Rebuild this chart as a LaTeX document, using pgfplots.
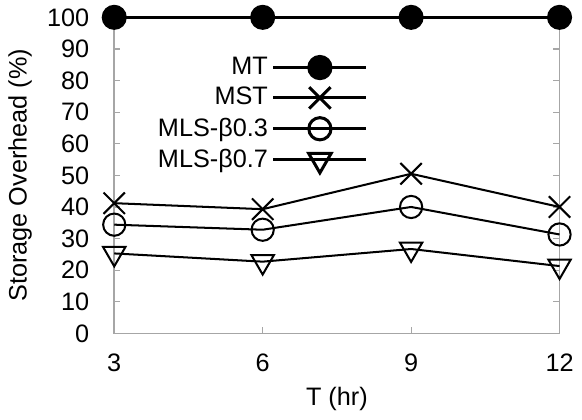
\documentclass[border=0pt]{standalone}
\usepackage{fontspec}
\setmainfont{Liberation Sans}
\usepackage{pgfplots}
\pgfplotsset{compat=1.18}
\begin{document}
\fontsize{12.5}{15}\selectfont
\begin{tikzpicture}
\begin{axis}[
  scale only axis,
  width=220.5pt, height=156.5pt,
  xmin=3, xmax=12, ymin=0, ymax=100,
  xtick={3,6,9,12}, ytick={0,10,...,100},
  tick align=inside, major tick length=3pt,
  axis line style={gray!70, line width=0.8pt},
  every tick/.style={gray!70, line width=0.6pt},
  /pgf/number format/assume math mode=true,
  ticklabel style={font=\fontsize{12.5}{15}\selectfont},
  xticklabel style={yshift=-6pt},
  yticklabel style={xshift=-8pt},
  label style={font=\fontsize{12.5}{15}\selectfont},
  xlabel={T (hr)}, ylabel={Storage Overhead (\%)},
  xlabel style={yshift=1pt},
  ylabel style={yshift=-1pt},
  clip=false,
  legend plot pos=right,
  legend cell align=right,
  legend style={draw=none, fill=none, at={(rel axis cs:0.575,0.895)}, anchor=north east,
    font=\fontsize{12.5}{15}\selectfont, row sep=0.5pt, inner sep=1pt},
  legend image code/.code={\draw[mark repeat=2,mark phase=2,line width=1.5pt] plot coordinates {(0pt,0pt)(23pt,0pt)(46pt,0pt)};},
  every axis plot/.append style={black, line width=1pt, mark size=5.5pt},
]
\addplot[mark=*, mark options={fill=black}, line width=1.4pt] coordinates {(3,100)(6,100)(9,100)(12,100)};
\addlegendentry{MT}
\addplot[mark=x, mark size=7.5pt] coordinates {(3,41.2)(6,39.3)(9,50.5)(12,40)};
\addlegendentry{MST}
\addplot[mark=o, mark options={fill=white}] coordinates {(3,34.4)(6,32.8)(9,40)(12,31.3)};
\addlegendentry{MLS-β0.3}
\addplot[mark=triangle, mark size=6.4pt, mark options={rotate=180, fill=white}] coordinates {(3,25.3)(6,22.7)(9,26.7)(12,21.3)};
\addlegendentry{MLS-β0.7}
\end{axis}
\end{tikzpicture}
\end{document}
